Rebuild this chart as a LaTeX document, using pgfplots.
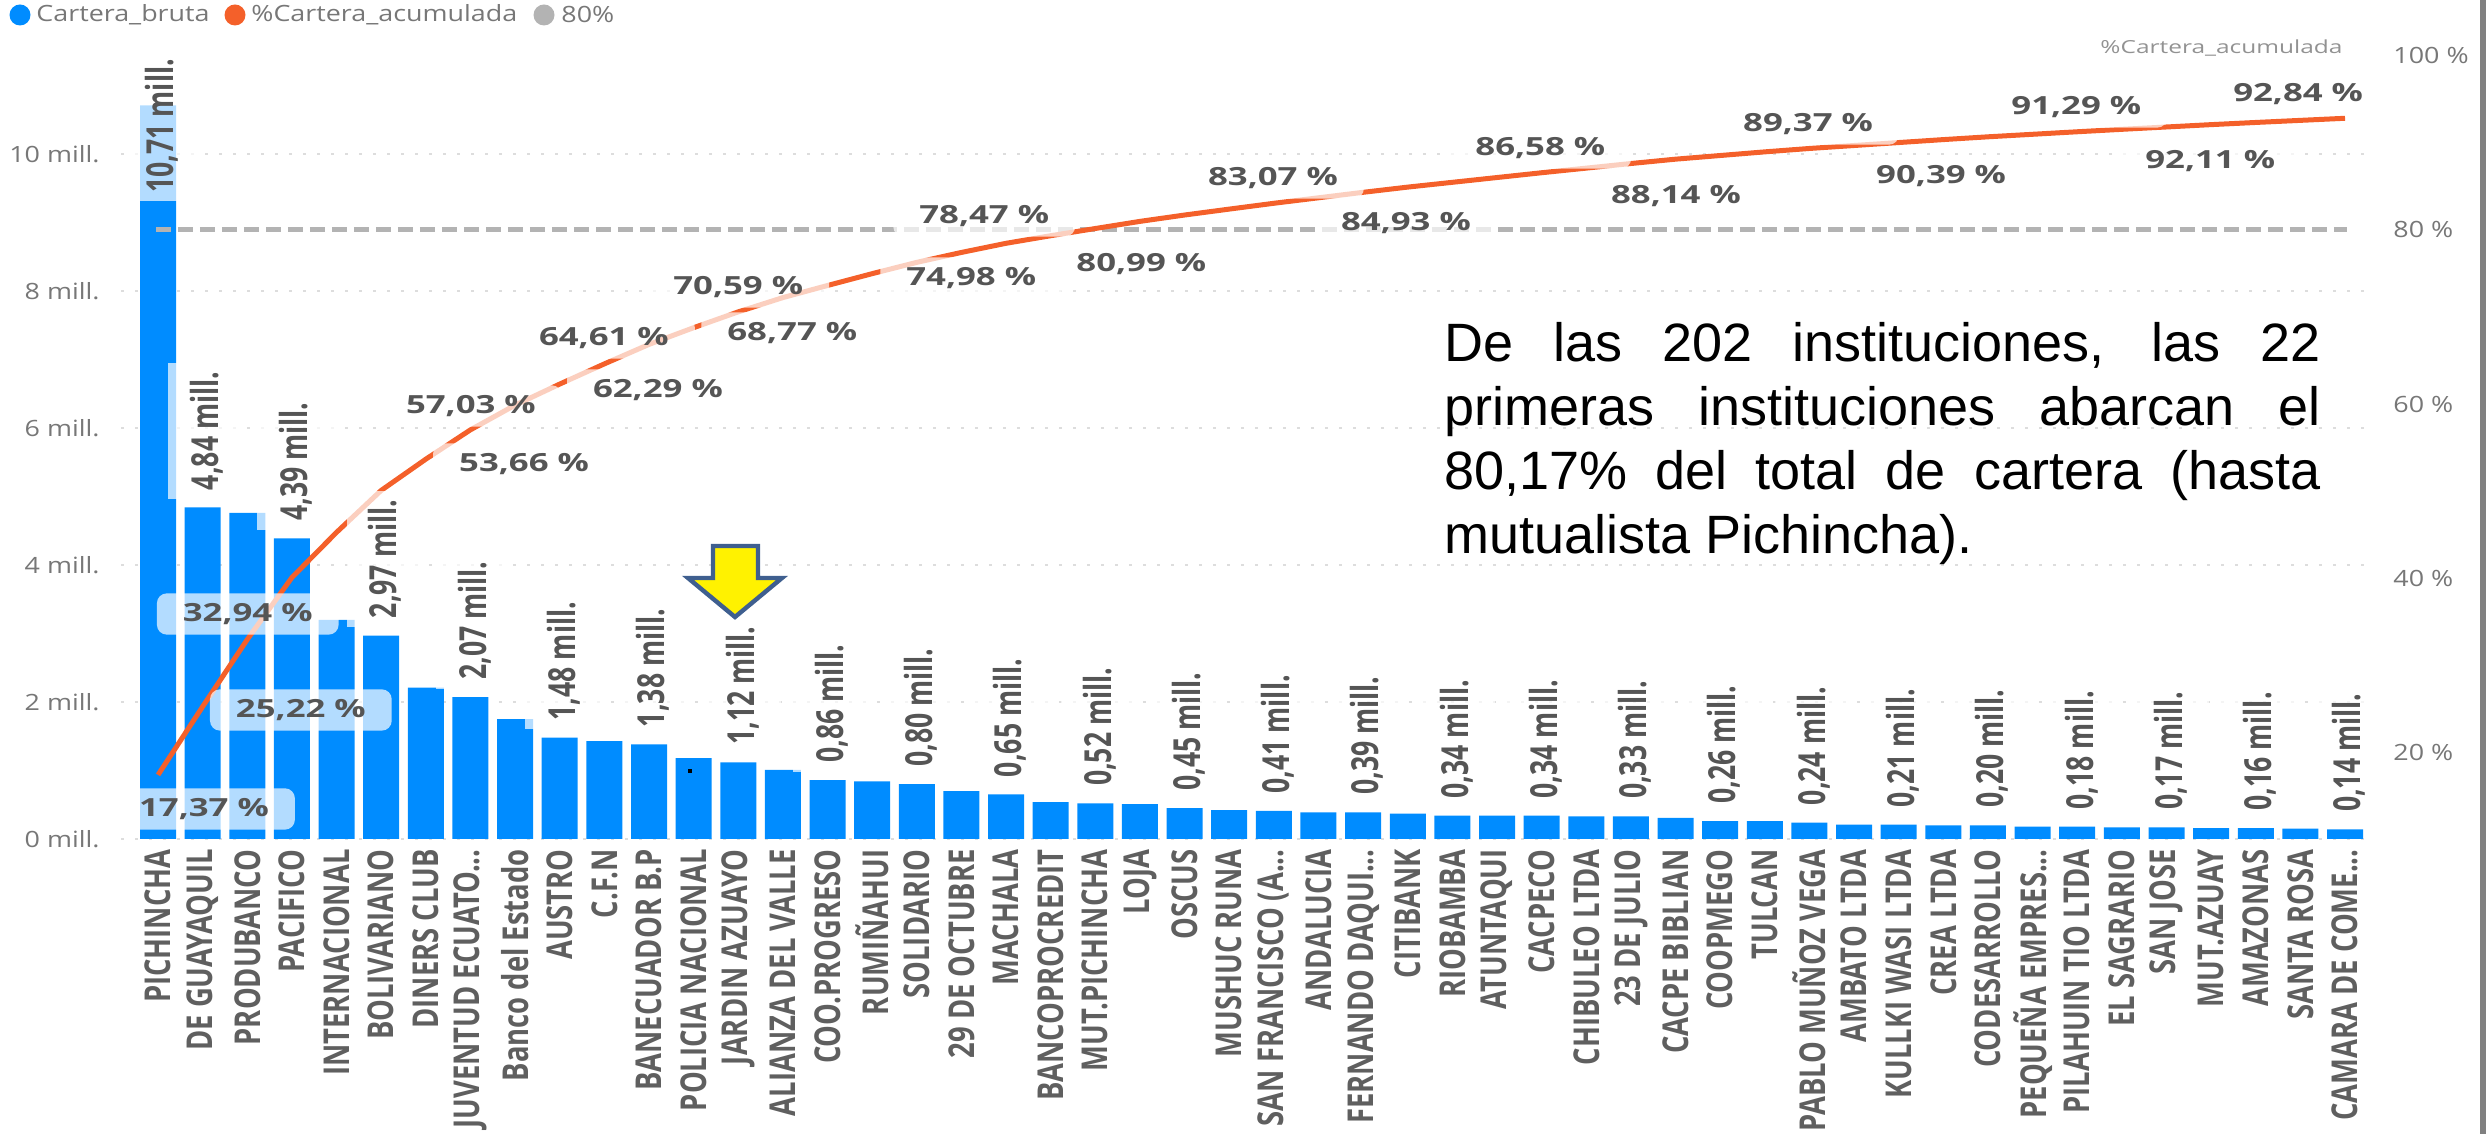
\documentclass[border=0pt]{standalone}
\usepackage{pgfplots}
\pgfplotsset{compat=1.18}
\usepackage{fontspec}
\usepackage{graphicx}
\setmainfont{Open Sans}
\newfontfamily\arialf{Liberation Sans}
\definecolor{barblue}{HTML}{008CFF}
\definecolor{lineorange}{HTML}{F4602A}
\definecolor{dashgrey}{HTML}{B3B3B3}
\definecolor{ticktxt}{HTML}{777777}
\definecolor{labtxt}{HTML}{555555}
\definecolor{xtxt}{HTML}{5F5F5F}
\definecolor{gridc}{HTML}{DDDDDD}
\definecolor{arrowedge}{HTML}{3F5F8F}
\newcommand{\tl}[1]{\scalebox{1.2}[1]{#1}}
\newcommand{\xl}[1]{\scalebox{1}[1.3]{#1}}
\pgfplotsset{
  base/.style={
    scale only axis, width=1122.5pt, height=391.5pt, at={(60.5pt,147.5pt)}, anchor=south west,
    xmin=-0.83, xmax=49.47, clip=false,
  }
}
\pgfplotstableread{
x y
0 10.71
1 4.84
2 4.76
3 4.39
4 3.20
5 2.97
6 2.21
7 2.07
8 1.75
9 1.48
10 1.43
11 1.38
12 1.18
13 1.12
14 1.01
15 0.86
16 0.84
17 0.80
18 0.70
19 0.65
20 0.54
21 0.52
22 0.51
23 0.45
24 0.42
25 0.41
26 0.39
27 0.39
28 0.37
29 0.34
30 0.34
31 0.34
32 0.33
33 0.33
34 0.31
35 0.26
36 0.26
37 0.24
38 0.21
39 0.21
40 0.20
41 0.20
42 0.18
43 0.18
44 0.17
45 0.17
46 0.16
47 0.16
48 0.15
49 0.14
}\bars
\pgfplotstableread{
x y
0 17.37
1 25.22
2 32.94
3 40.06
4 45.25
5 50.07
6 53.66
7 57.03
8 59.87
9 62.29
10 64.61
11 66.85
12 68.77
13 70.59
14 72.23
15 73.62
16 74.98
17 76.28
18 77.42
19 78.47
20 79.34
21 80.17
22 80.99
23 81.72
24 82.40
25 83.07
26 83.70
27 84.33
28 84.93
29 85.48
30 86.03
31 86.58
32 87.11
33 87.64
34 88.14
35 88.56
36 88.98
37 89.37
38 89.71
39 90.05
40 90.39
41 90.71
42 91.00
43 91.29
44 91.57
45 91.84
46 92.11
47 92.36
48 92.60
49 92.84
}\cum
\pgfplotstableread{
x y lab
1.03 13.68 17,37
3.20 25.06 25,22
2.01 36.09 32,94
8.20 53.33 53,66
7.01 60.00 57,03
11.20 61.84 62,29
9.99 67.82 64,61
14.21 68.39 68,77
13.00 73.68 70,59
18.22 74.71 74,98
18.51 81.84 78,47
22.03 76.32 80,99
24.98 86.21 83,07
27.96 81.03 84,93
30.97 89.66 86,58
34.01 84.14 88,14
36.97 92.41 89,37
39.95 86.44 90,39
42.98 94.37 91,29
45.98 88.16 92,11
47.95 95.86 92,84
}\pctlabels
\pgfplotstableread{
x y lab
0.09 9.30 10,71
1.09 4.957 4,84
3.09 4.507 4,39
5.09 3.087 2,97
7.09 2.187 2,07
9.09 1.597 1,48
11.09 1.497 1,38
13.09 1.237 1,12
15.09 0.977 0,86
17.09 0.917 0,80
19.09 0.767 0,65
21.09 0.637 0,52
23.09 0.567 0,45
25.09 0.527 0,41
27.09 0.507 0,39
29.09 0.457 0,34
31.09 0.457 0,34
33.09 0.447 0,33
35.09 0.377 0,26
37.09 0.357 0,24
39.09 0.327 0,21
41.09 0.317 0,20
43.09 0.297 0,18
45.09 0.287 0,17
47.09 0.277 0,16
49.09 0.257 0,14
}\barlabels
\begin{document}
\begin{tikzpicture}
\useasboundingbox (0,0) rectangle (1244.5pt,567pt);
% bars, left axis
\begin{axis}[base,
  ymin=0, ymax=11.43,
  axis x line*=bottom, axis y line*=left,
  axis line style={draw=none}, major tick length=0pt,
  ytick={0,2,4,6,8,10},
  yticklabels={\tl{0 mill.},\tl{2 mill.},\tl{4 mill.},\tl{6 mill.},\tl{8 mill.},\tl{10 mill.}},
  yticklabel style={font=\fontsize{11.2pt}{13pt}\selectfont, text=ticktxt, anchor=east, inner sep=0pt, xshift=-10.5pt},
  ymajorgrids, grid style={gridc, line width=1pt, dash pattern=on 1.5pt off 5.5pt},
  xtick={0,...,49},
  xticklabels={\xl{PICHINCHA},\xl{DE GUAYAQUIL},\xl{PRODUBANCO},\xl{PACIFICO},\xl{INTERNACIONAL},\xl{BOLIVARIANO},\xl{DINERS CLUB},\xl{JUVENTUD ECUATO...},\xl{Banco del Estado},\xl{AUSTRO},\xl{C.F.N},\xl{BANECUADOR B.P},\xl{POLICIA NACIONAL},\xl{JARDIN AZUAYO},\xl{ALIANZA DEL VALLE},\xl{COO.PROGRESO},\xl{RUMIÑAHUI},\xl{SOLIDARIO},\xl{29 DE OCTUBRE},\xl{MACHALA},\xl{BANCOPROCREDIT},\xl{MUT.PICHINCHA},\xl{LOJA},\xl{OSCUS},\xl{MUSHUC RUNA},\xl{SAN FRANCISCO (A...},\xl{ANDALUCIA},\xl{FERNANDO DAQUI...},\xl{CITIBANK},\xl{RIOBAMBA},\xl{ATUNTAQUI},\xl{CACPECO},\xl{CHIBULEO LTDA},\xl{23 DE JULIO},\xl{CACPE BIBLIAN},\xl{COOPMEGO},\xl{TULCAN},\xl{PABLO MUÑOZ VEGA},\xl{AMBATO LTDA},\xl{KULLKI WASI LTDA},\xl{CREA LTDA},\xl{CODESARROLLO},\xl{PEQUEÑA EMPRES...},\xl{PILAHUIN TIO LTDA},\xl{EL SAGRARIO},\xl{SAN JOSE},\xl{MUT.AZUAY},\xl{AMAZONAS},\xl{SANTA ROSA},\xl{CAMARA DE COME...}},
  xticklabel style={rotate=90, anchor=east, inner sep=0pt, xshift=-5pt, font=\fontsize{13.7pt}{16pt}\selectfont\bfseries, text=xtxt},
]
\addplot[ybar, bar width=18pt, bar shift=0pt, fill=barblue, draw=none] table[x=x,y=y] {\bars};
\end{axis}
% cumulative line, 80% line, percentage labels, right axis
\begin{axis}[base,
  ymin=10, ymax=100,
  hide x axis, axis y line*=right,
  axis line style={draw=none}, major tick length=0pt,
  ytick={20,40,60,80,100},
  yticklabels={\tl{20 \%},\tl{40 \%},\tl{60 \%},\tl{80 \%},\tl{100 \%}},
  yticklabel style={font=\fontsize{11.2pt}{13pt}\selectfont, text=ticktxt, anchor=west, inner sep=0pt, xshift=13.5pt},
]
\addplot[dashgrey, line width=2.5pt, dash pattern=on 7.5pt off 3.5pt] coordinates {(-0.05,80) (49.05,80)};
\addplot[lineorange, line width=2.5pt, line join=round] table[x=x,y=y] {\cum};
\addplot[draw=none, point meta=explicit symbolic,
  nodes near coords={\scalebox{1.39}[1]{\pgfplotspointmeta\ \%}},
  every node near coord/.append style={anchor=center, yshift=-1pt, fill=white, fill opacity=.7, text opacity=1,
    rounded corners=5pt, inner xsep=13pt, inner ysep=5pt, text=labtxt,
    font=\fontsize{12.5pt}{14pt}\selectfont\bfseries},
] table[x=x,y=y,meta=lab] {\pctlabels};
\end{axis}
% value labels of the bars
\begin{axis}[base, ymin=0, ymax=11.43, hide axis]
\addplot[draw=none, point meta=explicit symbolic,
  nodes near coords={\scalebox{1}[1.4]{\pgfplotspointmeta\ mill.}},
  every node near coord/.append style={rotate=90, anchor=west, fill=white, fill opacity=.7, text opacity=1,
    inner xsep=4.5pt, inner ysep=11pt, text=labtxt,
    font=\fontsize{13.3pt}{15pt}\selectfont\bfseries},
] table[x=x,y=y,meta=lab] {\barlabels};
\end{axis}
% annotations, in pixels of the reference
\begin{scope}[shift={(0,567pt)}, x=0.5pt, y=-0.5pt]
  \fill[barblue] (20,15) circle[radius=10.5];
  \node[anchor=west, inner sep=0pt, text=ticktxt, font=\fontsize{11.2pt}{13pt}\selectfont] at (36,15) {\tl{Cartera\_bruta}};
  \fill[lineorange] (235,15) circle[radius=10.5];
  \node[anchor=west, inner sep=0pt, text=ticktxt, font=\fontsize{11.2pt}{13pt}\selectfont] at (251,15) {\tl{\%Cartera\_acumulada}};
  \fill[dashgrey] (544,15) circle[radius=10.5];
  \node[anchor=west, inner sep=0pt, text=ticktxt, font=\fontsize{11.2pt}{13pt}\selectfont] at (561,15) {\tl{80\%}};
  \node[anchor=east, inner sep=0pt, text=ticktxt!80, font=\fontsize{9pt}{11pt}\selectfont] at (2343,48) {\scalebox{1.36}[1]{\%Cartera\_acumulada}};
  \node[anchor=north west, inner sep=0pt] at (1444,322) {\parbox[t]{438pt}{\arialf\fontsize{27pt}{32pt}\selectfont
    De las 202 instituciones, las 22\linebreak primeras instituciones abarcan el\linebreak 80,17\% del total de cartera (hasta\linebreak mutualista Pichincha).}};
  \draw[fill=yellow, draw=arrowedge, line width=2.2pt, line join=miter]
    (713,546) -- (758,546) -- (758,578) -- (782,578) -- (735,617) -- (688,578) -- (713,578) -- cycle;
  \fill[black] (688,769) rectangle (692,773);
  \fill[gray] (2480,0) rectangle (2486,1134);
\end{scope}
\end{tikzpicture}
\end{document}
